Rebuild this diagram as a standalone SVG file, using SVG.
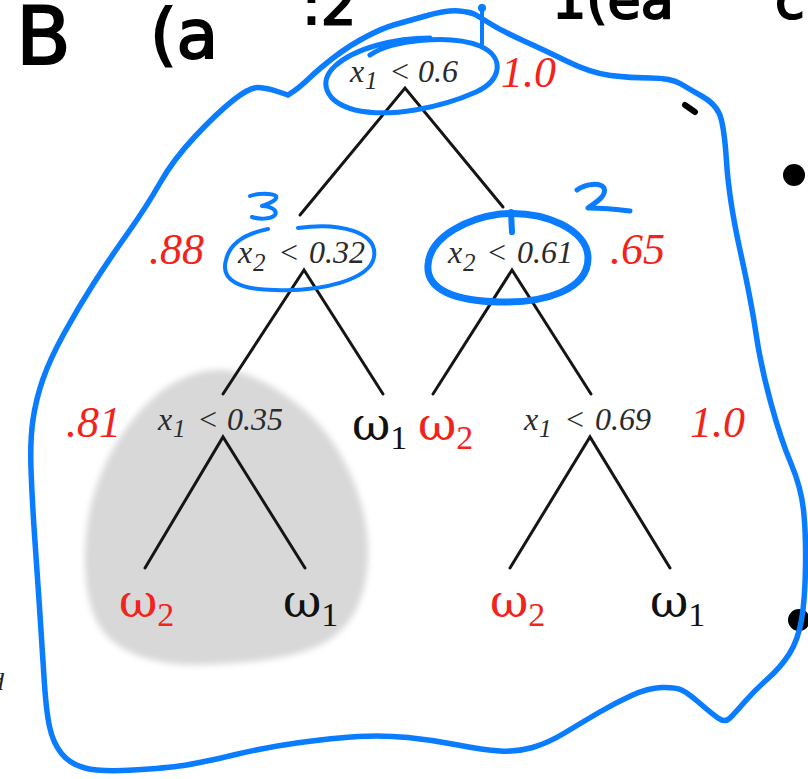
<svg xmlns="http://www.w3.org/2000/svg" width="808" height="779" viewBox="0 0 808 779">
<defs>
<style>
.cond{font-family:"Liberation Serif","Times New Roman",serif;font-style:italic;font-size:32px;fill:#2b2b2b}
.sub{font-size:25px}
.red{font-family:"Liberation Serif","Times New Roman",serif;font-style:italic;font-size:44px;fill:#f2231b}
.om{font-family:"DejaVu Serif","Liberation Serif",serif;font-size:47px}
.os{font-family:"Liberation Serif",serif;font-size:34px}
.blk{fill:#111}
.rd{fill:#f2231b}
.edge{stroke:#151515;stroke-width:3;fill:none;stroke-linecap:round}
.pen{stroke:#0a7cff;fill:none;stroke-linecap:round;stroke-linejoin:round}
.hand{font-family:"DejaVu Sans","Liberation Sans",sans-serif;fill:#000;stroke:#000;stroke-width:2}
</style>
<filter id="soft" x="-10%" y="-10%" width="120%" height="120%"><feGaussianBlur stdDeviation="3"/></filter>
</defs>
<rect width="808" height="779" fill="#ffffff"/>

<!-- pruned-subtree shading -->
<path id="shade" filter="url(#soft)" fill="#d8d8d8" d="M217,370 C245,368 285,390 315,420 C345,452 366,500 368,545 C370,595 352,630 320,645 C290,660 240,664 193,665 C150,664 118,652 102,630 C84,605 82,560 88,520 C96,470 125,420 160,392 C180,377 200,370 217,370 Z"/>

<!-- connectors -->
<g id="connectors">
<path class="edge" d="M300,215 L405,88 L503,207"/>
<path class="edge" d="M223,394 L304,270 L383,394"/>
<path class="edge" d="M433,394 L512,270 L591,394"/>
<path class="edge" d="M145,568 L223,437 L305,568"/>
<path class="edge" d="M510,568 L590,437 L670,568"/>
</g>

<!-- nodes -->
<g id="node-root">
<text class="cond" x="350" y="82">x</text><text class="cond sub" x="365" y="89">1</text><text class="cond" x="389" y="82">&lt;</text><text class="cond" x="418" y="82">0.6</text>
<text class="red" x="501" y="87">1.0</text>
</g>
<g id="node-x2-032">
<text class="red" x="149" y="264">.88</text>
<text class="cond" x="238" y="263">x</text><text class="cond sub" x="253" y="271">2</text><text class="cond" x="278" y="263">&lt;</text><text class="cond" x="309" y="263">0.32</text>
</g>
<g id="node-x2-061">
<text class="cond" x="448" y="263">x</text><text class="cond sub" x="463" y="271">2</text><text class="cond" x="486" y="263">&lt;</text><text class="cond" x="517" y="263">0.61</text>
<text class="red" x="610" y="264">.65</text>
</g>
<g id="node-x1-035">
<text class="red" x="66" y="437">.81</text>
<text class="cond" x="158" y="430">x</text><text class="cond sub" x="173" y="437">1</text><text class="cond" x="197" y="430">&lt;</text><text class="cond" x="227" y="430">0.35</text>
</g>
<g id="node-leaf-w1-a"><text class="om blk" x="352" y="440">ω<tspan class="os" dy="9">1</tspan></text></g>
<g id="node-leaf-w2-a"><text class="om rd" x="418" y="440">ω<tspan class="os" dy="9">2</tspan></text></g>
<g id="node-x1-069">
<text class="cond" x="524" y="430">x</text><text class="cond sub" x="539" y="437">1</text><text class="cond" x="564" y="430">&lt;</text><text class="cond" x="595" y="430">0.69</text>
<text class="red" x="690" y="437">1.0</text>
</g>
<g id="node-leaf-w2-b"><text class="om rd" x="119" y="617">ω<tspan class="os" dy="9">2</tspan></text></g>
<g id="node-leaf-w1-b"><text class="om blk" x="283" y="617">ω<tspan class="os" dy="9">1</tspan></text></g>
<g id="node-leaf-w2-c"><text class="om rd" x="490" y="617">ω<tspan class="os" dy="9">2</tspan></text></g>
<g id="node-leaf-w1-c"><text class="om blk" x="650" y="617">ω<tspan class="os" dy="9">1</tspan></text></g>

<!-- ink annotations -->
<g id="ink-black">
<text class="hand" x="16" y="64" font-size="80">B</text>
<text class="hand" x="150" y="58" font-size="68">(a</text>
<text class="hand" x="302" y="24" font-size="56">:2</text>
<text class="hand" x="552" y="18" font-size="54">1(ea</text>
<text class="hand" x="775" y="18" font-size="54">c</text>
<circle cx="794" cy="175" r="11" fill="#000"/>
<circle cx="799" cy="620" r="11" fill="#000"/>
<line x1="685" y1="105" x2="695" y2="112" stroke="#000" stroke-width="6" stroke-linecap="round"/>
<text x="-9" y="690" font-family="Liberation Serif,serif" font-style="italic" font-size="26" fill="#222">d</text>
</g>

<g id="ink-blue">
<path class="pen" stroke-width="5.5" d="M288,95 L294,91 Q300,87 310,77.5 Q320,68 335,56.5 Q350,45 366.5,36.5 Q383,28 393.5,25 Q404,22 425.5,16 Q447,10 459,11 Q471,12 476,15 Q481,18 492.5,25 Q504,32 524,41 Q544,50 567.5,61.5 Q591,73 610.5,75.5 Q630,78 650.5,78 Q671,78 681,84 Q691,90 702.5,96.5 Q714,103 719,113 Q724,123 726.5,161.5 Q729,200 740,250 Q751,300 756,333.5 Q761,367 771,403.5 Q781,440 791,463.5 Q801,487 803.5,510 Q806,533 805.5,566.5 Q805,600 801.5,620 Q798,640 789.5,653.5 Q781,667 768,678.5 Q755,690 745,701.5 Q735,713 730,718 Q725,723 718,718 Q711,713 699.5,703 Q688,693 681.5,690 Q675,687 661.5,687.5 Q648,688 631.5,695.5 Q615,703 598,713 Q581,723 564.5,733 Q548,743 532.5,747.5 Q517,752 500,751 Q483,750 458,745 Q433,740 408,737.5 Q383,735 358,736.5 Q333,738 300,742.5 Q267,747 233.5,755 Q200,763 183.5,765.5 Q167,768 133.5,770 Q100,772 85,768 Q70,764 61.5,753.5 Q53,743 49.5,726.5 Q46,710 44,677 Q42,644 39.5,607.5 Q37,571 34.5,534.5 Q32,498 31,469 Q30,440 33,419.5 Q36,399 43,379 Q50,359 64,333.5 Q78,308 93,284.5 Q108,261 127.5,233.5 Q147,206 160,183 Q173,160 195,136.5 Q217,113 233.5,100 Q250,87 258.5,87.5 Q267,88 277.5,91.5 L288,95"/>
<path class="pen" stroke-width="5" d="M370,55 C392,40 450,34 480,46 C505,57 502,80 476,92 C440,108 390,118 355,110 C325,102 318,82 335,66 C355,48 395,38 430,38"/>
<path class="pen" stroke-width="4" d="M482,6 L482,44"/>
<circle cx="482" cy="8" r="4" fill="#0a7cff"/>
<path class="pen" stroke-width="4" d="M298,228 C340,222 378,232 374,257 C370,280 320,292 275,290 C240,290 220,280 226,260 C230,242 248,233 268,229"/>
<path class="pen" stroke-width="7" d="M500,214 C545,210 588,230 588,258 C588,290 545,303 500,302 C455,301 426,290 428,265 C430,235 470,218 500,214 Z"/>
<path class="pen" stroke-width="6" d="M511,212 L512,232"/>
<path class="pen" stroke-width="4" d="M250,196 C258,193 272,193 276,196 C278,200 268,204 262,206 C270,206 278,210 275,215 C270,220 258,219 252,217"/>
<path class="pen" stroke-width="5" d="M577,190 C585,184 600,182 604,188 C607,196 596,202 588,208 C600,208 615,209 630,211"/>
</g>
</svg>
